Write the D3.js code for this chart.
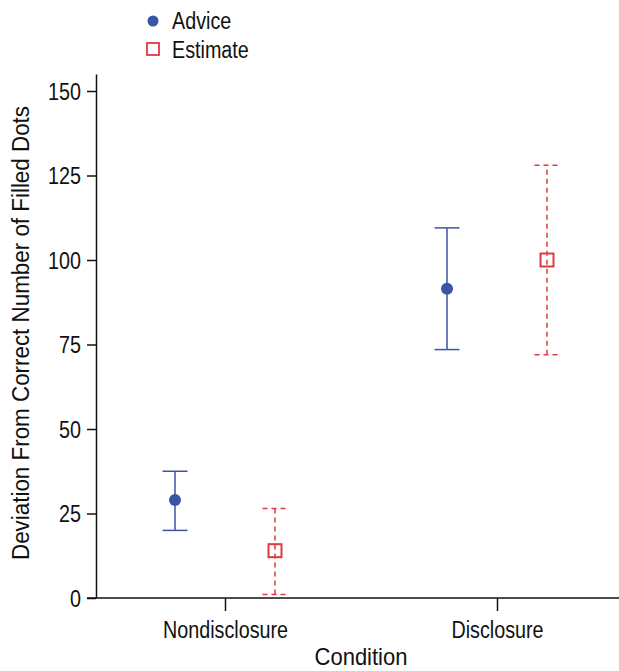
<!DOCTYPE html>
<html>
<head>
<meta charset="utf-8">
<script src="https://cdn.jsdelivr.net/npm/d3@7"></script>
<style>
  body { margin: 0; background: #fff; }
  svg text { font-family: "Liberation Sans", Arial, sans-serif; fill: #111; }
</style>
</head>
<body>
<svg width="619" height="671"></svg>
<script>
// data
var conditions = ["Nondisclosure", "Disclosure"];
var seriesNames = ["Advice", "Estimate"];
var adviceMean = [29, 91.5];
var adviceLow = [20, 73.5];
var adviceHigh = [37.5, 109.5];
var estimateMean = [14, 100];
var estimateLow = [1, 72];
var estimateHigh = [26.5, 128];
var yTicks = [0, 25, 50, 75, 100, 125, 150];

var blue = "#3b55a6", red = "#e03a42";

var svg = d3.select("svg"),
    width = +svg.attr("width"),
    height = +svg.attr("height");

var margin = {left: 96, right: 0, top: 73, bottom: 73};

// squeeze text sideways so it looks like a condensed face
function condense(sel, f) {
  sel.each(function() {
    var len = this.getComputedTextLength();
    d3.select(this).attr("textLength", len * f).attr("lengthAdjust", "spacingAndGlyphs");
  });
}

var x = d3.scalePoint()
    .domain(conditions)
    .range([225, 497]);

var y = d3.scaleLinear()
    .domain([0, 155])
    .range([598, 598 - 155 * 507 / 150]);

// axes
svg.append("g")
    .attr("transform", "translate(" + margin.left + ",0)")
    .call(d3.axisLeft(y).tickValues(yTicks).tickSize(9).tickPadding(6).tickSizeOuter(0))
    .call(g => g.selectAll("text").style("font-size", "23.5px").attr("dy", "0.36em").call(condense, 0.84))
    .call(g => g.selectAll("line,path").attr("stroke", "#111").attr("stroke-width", 1.5));

var xAxis = svg.append("g")
    .attr("transform", "translate(0," + y(0) + ")")
    .call(d3.axisBottom(x).tickSize(13).tickPadding(10).tickSizeOuter(0))
    .call(g => g.selectAll("text").style("font-size", "23.5px").call(condense, 0.84))
    .call(g => g.selectAll("line").attr("stroke", "#111").attr("stroke-width", 1.5));
xAxis.select(".domain")
    .attr("d", "M" + (margin.left - 9) + ",0H" + width)
    .attr("stroke", "#111").attr("stroke-width", 1.5);

// axis titles
svg.append("text")
    .attr("x", x(conditions[0]) + (x(conditions[1]) - x(conditions[0])) / 2)
    .attr("y", 665)
    .attr("text-anchor", "middle")
    .style("font-size", "24px")
    .attr("textLength", 93).attr("lengthAdjust", "spacingAndGlyphs")
    .text("Condition");

svg.append("text")
    .attr("transform", "translate(29," + 333 + ") rotate(-90)")
    .attr("text-anchor", "middle")
    .style("font-size", "23.5px")
    .attr("textLength", 454).attr("lengthAdjust", "spacingAndGlyphs")
    .text("Deviation From Correct Number of Filled Dots");

// error bars
var off = 50, cap = 12.5;
function errorBars(mean, low, high, dx, color, dash) {
  var g = svg.append("g");
  conditions.forEach(function(c, i) {
    var cx = x(c) + dx;
    g.append("line")
      .attr("x1", cx).attr("x2", cx)
      .attr("y1", y(low[i])).attr("y2", y(high[i]))
      .attr("stroke", color).attr("stroke-width", 1.5)
      .attr("stroke-dasharray", dash);
    [low[i], high[i]].forEach(function(v) {
      g.append("line")
        .attr("x1", cx - cap).attr("x2", cx + cap)
        .attr("y1", y(v)).attr("y2", y(v))
        .attr("stroke", color).attr("stroke-width", 1.5)
        .attr("stroke-dasharray", dash);
    });
  });
  return g;
}

errorBars(adviceMean, adviceLow, adviceHigh, -off, blue, null)
  .selectAll("circle")
  .data(adviceMean)
  .enter()
  .append("circle")
    .attr("cx", (d, i) => x(conditions[i]) - off)
    .attr("cy", d => y(d))
    .attr("r", 6)
    .attr("fill", blue);

errorBars(estimateMean, estimateLow, estimateHigh, off, red, "5,4")
  .selectAll("rect")
  .data(estimateMean)
  .enter()
  .append("rect")
    .attr("x", (d, i) => x(conditions[i]) + off - 6.5)
    .attr("y", d => y(d) - 6.5)
    .attr("width", 13).attr("height", 13)
    .attr("fill", "none")
    .attr("stroke", red).attr("stroke-width", 2);

// legend
var legend = svg.append("g");
legend.append("circle")
  .attr("cx", 153).attr("cy", 21).attr("r", 5.5).attr("fill", blue);
legend.append("rect")
  .attr("x", 147).attr("y", 43).attr("width", 12).attr("height", 12)
  .attr("fill", "none").attr("stroke", red).attr("stroke-width", 1.8);
legend.selectAll("text")
  .data(seriesNames)
  .enter()
  .append("text")
    .attr("x", 172)
    .attr("y", (d, i) => 29 + i * 29)
    .style("font-size", "23.5px")
    .text(d => d)
    .call(condense, 0.84);
</script>
</body>
</html>
